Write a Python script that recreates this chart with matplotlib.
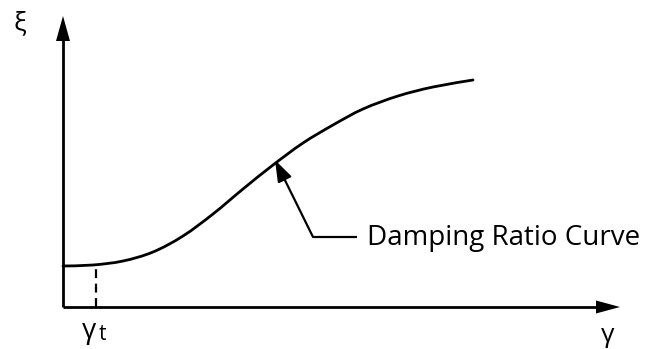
import matplotlib
matplotlib.use("Agg")
import matplotlib.pyplot as plt
from matplotlib.path import Path
from matplotlib.patches import PathPatch, Polygon
import numpy as np

# Damping ratio curve (gamma, xi) in drawing units, origin at the axes corner
gamma = [0, 30, 60, 90, 120, 150, 180, 210, 240, 270, 300, 335, 370, 410]
xi = [41, 42, 46, 55, 71, 93, 118, 142, 164, 182, 198, 211, 220, 227]

gamma_t = 33          # threshold strain position
xi_min = 41           # damping at threshold
x_end, y_end = 557, 291   # axis arrow tips
label_text = "Damping Ratio Curve"

fig = plt.figure(figsize=(6.52, 3.49), dpi=100)
ax = fig.add_axes([0, 0, 1, 1])
ax.set_xlim(-63, 652 - 63)
ax.set_ylim(307 - 349, 307)
ax.axis("off")

lw = 2.0
# axes lines with filled arrow heads
ax.plot([0, x_end - 24], [0, 0], color="black", lw=lw, solid_capstyle="butt")
ax.plot([0, 0], [0, y_end - 24], color="black", lw=lw, solid_capstyle="butt")
ax.add_patch(Polygon([[x_end, 0], [x_end - 24, 6.5], [x_end - 24, -6.5]],
                     closed=True, color="black", lw=0))
ax.add_patch(Polygon([[0, y_end], [-7, y_end - 25], [7, y_end - 25]],
                     closed=True, color="black", lw=0))

# smooth curve through the points (Catmull-Rom as cubic Bezier segments)
P = np.column_stack([gamma, xi]).astype(float)
verts = [P[0]]
codes = [Path.MOVETO]
n = len(P)
for i in range(n - 1):
    p0 = P[i - 1] if i > 0 else P[i]
    p1, p2 = P[i], P[i + 1]
    p3 = P[i + 2] if i + 2 < n else P[i + 1]
    c1 = p1 + (p2 - p0) / 6.0
    c2 = p2 - (p3 - p1) / 6.0
    verts += [c1, c2, p2]
    codes += [Path.CURVE4] * 3
ax.add_patch(PathPatch(Path(verts, codes), fill=False, lw=lw, ec="black",
                       capstyle="round"))

# threshold dashed line
ax.plot([gamma_t, gamma_t], [0, xi_min], color="black", lw=1.6,
        linestyle=(0, (4, 2.5)))

# leader with arrow to the curve
ax.annotate("", xy=(212, 147), xytext=(250, 70),
            arrowprops=dict(arrowstyle="-|>,head_length=1.3,head_width=0.45",
                            color="black", lw=1.6, shrinkA=0, shrinkB=0))
ax.plot([250, 294], [70, 70], color="black", lw=1.6, solid_capstyle="butt")
ax.text(304, 62, label_text, fontsize=20, family="Open Sans",
        va="baseline", ha="left")

# axis symbols
ax.text(-43, 283, "ξ", fontsize=19, family="Open Sans", ha="center", va="center")
ax.text(x_end - 12, -29, "γ", fontsize=19, family="Open Sans", ha="center", va="center")
ax.text(19, -24, "γ", fontsize=20, family="Open Sans", ha="left", va="center")
ax.text(36, -27, "t", fontsize=15, family="Open Sans", ha="left", va="center")

fig.savefig("out.png", dpi=100)
